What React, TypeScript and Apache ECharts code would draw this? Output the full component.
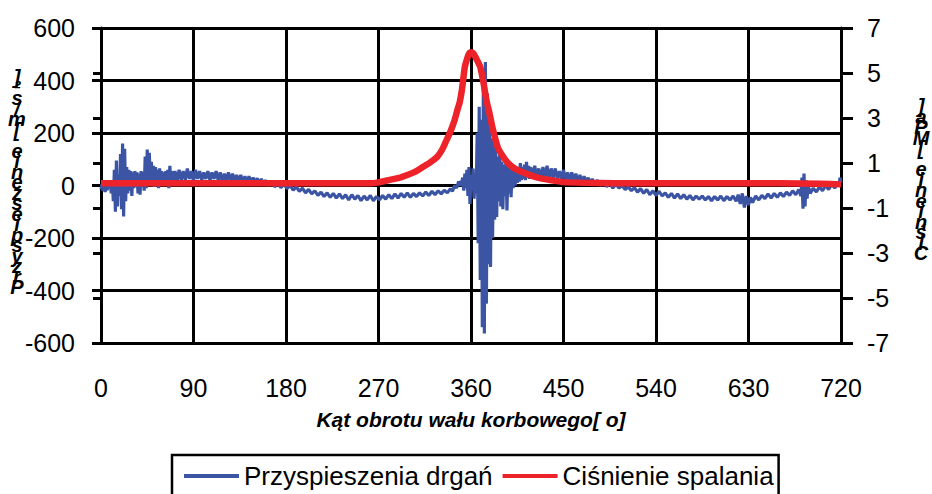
import React, { useEffect, useRef } from "react";
import * as echarts from "echarts";

const xTicks = [0, 90, 180, 270, 360, 450, 540, 630, 720];
const leftTicks = [-600, -400, -200, 0, 200, 400, 600];
const rightTicks = [-7, -5, -3, -1, 1, 3, 5, 7];

const seriesNames = ["Przyspieszenia drgań", "Ciśnienie spalania"];
const xTitle = "Kąt obrotu wału korbowego[ o]";
const leftTitle = "Przyspieszenie [m/s²]";
const rightTitle = "Ciśnienie [MPa]";

// [angle deg, acceleration m/s2]
const vibration: [number, number][] = [
  [0,-15],[1,5],[2,-20],[3,0],[4,-25],[5,-5],[6,-18],[7,5],[8,-10],[9,10],[10,-30],[11,20],[12,-60],[13,60],[14,-100],[15,95],[16,-80],[17,40],[18,-40],[19,120],[20,-90],[21,160],[22,-118],[23,140],[24,-60],[25,70],[26,-30],[27,60],[28,-20],[29,55],[30,-40],[31,50],[32,-10],[33,55],[34,-5],[35,50],[36,-30],[37,45],[38,-35],[39,55],[40,10],[41,50],[42,-20],[43,110],[44,-10],[45,137],[46,20],[47,125],[48,10],[49,90],[50,15],[51,75],[52,-5],[53,70],[54,20],[55,60],[56,-10],[57,65],[58,15],[59,55],[60,5],[61,50],[62,20],[63,55],[64,10],[65,60],[66,-10],[67,75],[68,15],[69,55],[70,10],[72,55],[74,15],[76,60],[78,20],[80,55],[82,20],[84,65],[86,25],[88,55],[90,15],[92,60],[94,25],[96,55],[98,20],[100,50],[102,25],[104,55],[106,20],[108,50],[110,25],[112,55],[114,20],[116,50],[118,15],[120,45],[122,20],[124,50],[126,15],[128,45],[130,20],[132,40],[134,15],[136,40],[138,10],[140,35],[142,12],[144,35],[146,10],[148,30],[150,8],[152,28],[154,5],[156,25],[158,5],[160,20],[163,0],[166,15],[169,-5],[172,8],[175,-8],[178,5],[181,-12],[184,0],[187,-18],[190,-5],[193,-22],[196,-10],[199,-28],[202,-15],[205,-32],[208,-20],[211,-38],[214,-25],[217,-42],[220,-28],[223,-45],[226,-30],[229,-48],[232,-32],[235,-50],[238,-35],[241,-55],[244,-35],[247,-52],[250,-38],[253,-58],[256,-40],[259,-55],[262,-38],[265,-58],[268,-42],[271,-55],[274,-38],[277,-52],[280,-35],[283,-50],[286,-32],[289,-48],[292,-30],[295,-45],[298,-28],[301,-45],[304,-30],[307,-42],[310,-28],[313,-40],[316,-25],[319,-38],[322,-22],[325,-35],[328,-20],[331,-32],[334,-18],[337,-28],[340,-12],[342,-22],[344,0],[346,-10],[348,15],[350,0],[352,30],[353,-20],[354,45],[355,-10],[356,60],[357,-40],[358,70],[359,-70],[360,40],[361,-20],[362,65],[363,-50],[364,30],[365,-30],[366,200],[367,-220],[368,300],[369,-360],[370,250],[371,-540],[372,380],[373,-564],[374,470],[375,-450],[376,350],[377,-300],[378,220],[379,-310],[380,180],[381,-200],[382,170],[383,-130],[384,150],[385,-120],[386,110],[387,-60],[388,130],[389,-80],[390,90],[391,-90],[392,80],[393,-40],[394,85],[395,-95],[396,70],[397,-30],[398,80],[399,-45],[400,60],[401,-10],[402,55],[403,0],[404,70],[405,10],[406,60],[407,15],[408,85],[409,20],[410,70],[411,25],[412,80],[413,20],[414,90],[415,30],[416,75],[417,25],[418,70],[420,30],[422,75],[424,30],[426,65],[428,25],[430,70],[432,30],[434,75],[436,25],[438,65],[440,30],[442,65],[444,25],[446,55],[448,25],[450,60],[452,20],[454,50],[456,15],[458,50],[460,20],[462,45],[464,15],[466,40],[468,10],[470,35],[472,10],[474,30],[476,5],[478,25],[480,5],[483,20],[486,0],[489,15],[492,-5],[495,10],[498,-10],[501,5],[504,-10],[507,0],[510,-15],[513,-5],[516,-20],[519,-8],[522,-25],[525,-12],[528,-30],[531,-15],[534,-35],[537,-20],[540,-38],[543,-22],[546,-40],[549,-28],[552,-45],[555,-30],[558,-48],[561,-32],[564,-50],[567,-35],[570,-52],[573,-38],[576,-55],[579,-40],[582,-52],[585,-40],[588,-55],[591,-42],[594,-58],[597,-42],[600,-55],[603,-40],[606,-58],[609,-42],[612,-55],[615,-40],[618,-60],[620,-35],[622,-70],[624,-30],[626,-84],[628,-40],[630,-75],[632,-45],[634,-65],[637,-40],[640,-55],[643,-38],[646,-50],[649,-32],[652,-48],[655,-30],[658,-45],[661,-28],[664,-42],[667,-25],[670,-38],[673,-20],[676,-35],[679,-15],[681,-40],[682,30],[683,-88],[684,46],[685,-80],[686,20],[687,-50],[688,0],[690,-30],[693,-10],[696,-25],[699,-5],[702,-20],[705,0],[708,-15],[711,5],[714,-10],[717,15],[718,-5],[719,30],[720,10]
];

// [angle deg, pressure MPa]
const pressure: [number, number][] = [
  [0,0.1],[30,0.1],[60,0.1],[90,0.1],[120,0.1],[150,0.1],[180,0.1],[210,0.1],[240,0.1],[262,0.1],[270,0.14],[281,0.25],[290,0.34],[298,0.47],[306,0.62],[313,0.82],[320,1.02],[327,1.27],[332,1.6],[336,2.0],[340,2.4],[344,2.9],[347,3.4],[349,3.7],[351,4.2],[352,4.55],[354,5.27],[356,5.6],[358,5.85],[360,5.92],[362,5.88],[365,5.65],[369,5.27],[372,4.6],[375,3.8],[378,3.2],[381,2.55],[386,1.7],[391,1.3],[396,1.0],[401,0.8],[407,0.65],[414,0.52],[420,0.42],[427,0.33],[440,0.22],[450,0.15],[470,0.12],[500,0.1],[540,0.1],[580,0.1],[620,0.1],[660,0.1],[700,0.08],[720,0.05]
];

const FONT = '"Liberation Sans", Arial, sans-serif';

// Upright characters stacked from bottom to top (as in the reference) in one text element.
function stacked(str: string) {
  return Array.from(str).reverse().join("\n");
}

export default function App() {
  const ref = useRef<HTMLDivElement>(null);
  useEffect(() => {
    if (!ref.current) return;
    const chart = echarts.init(ref.current, undefined, { renderer: "svg" });
    const black = "#000";
    const gridLine = { show: true, lineStyle: { color: black, width: 3, type: "solid" } };
    const stackStyle = {
      font: `italic bold 20px ${FONT}`,
      fill: black,
      lineHeight: 10.5,
      textAlign: "center",
      textVerticalAlign: "top",
      verticalAlign: "top",
    };
    chart.setOption({
      animation: false,
      backgroundColor: "#fff",
      textStyle: { fontFamily: FONT },
      grid: { left: 101, right: 91, top: 28, bottom: 151, containLabel: false },
      legend: {
        data: seriesNames,
        left: 172,
        top: 455,
        icon: "rect",
        itemWidth: 55,
        itemHeight: 4,
        itemGap: 10,
        borderColor: black,
        borderWidth: 2.5,
        padding: [8, 5, 20, 12],
        textStyle: { fontSize: 26, color: black, fontFamily: FONT },
      },
      xAxis: {
        type: "value",
        min: xTicks[0],
        max: xTicks[xTicks.length - 1],
        interval: 90,
        name: xTitle,
        nameLocation: "middle",
        nameGap: 66,
        nameTextStyle: { fontSize: 21, fontWeight: "bold", fontStyle: "italic", color: black, fontFamily: FONT },
        axisLine: { show: true, onZero: false, lineStyle: { color: black, width: 3 } },
        axisTick: { show: false },
        axisLabel: { fontSize: 25, color: black, margin: 32, fontFamily: FONT },
        splitLine: gridLine,
      },
      yAxis: [
        {
          type: "value",
          position: "left",
          min: leftTicks[0],
          max: leftTicks[leftTicks.length - 1],
          interval: 200,
          axisLine: { show: true, onZero: false, lineStyle: { color: black, width: 3 } },
          axisTick: { show: true, inside: false, length: 9, lineStyle: { color: black, width: 3 } },
          axisLabel: { fontSize: 25, color: black, margin: 26, fontFamily: FONT },
          splitLine: gridLine,
        },
        {
          type: "value",
          position: "right",
          min: rightTicks[0],
          max: rightTicks[rightTicks.length - 1],
          interval: 2,
          axisLine: { show: true, onZero: false, lineStyle: { color: black, width: 3 } },
          axisTick: { show: true, inside: false, length: 12, lineStyle: { color: black, width: 3 } },
          axisLabel: { fontSize: 25, color: black, margin: 26, fontFamily: FONT },
          splitLine: { show: false },
        },
        {
          type: "value",
          position: "right",
          min: rightTicks[0],
          max: rightTicks[rightTicks.length - 1],
          interval: 2,
          axisLine: { show: false },
          axisTick: { show: true, inside: true, length: 8, lineStyle: { color: black, width: 3 } },
          axisLabel: { show: false },
          splitLine: { show: false },
        },
      ],
      graphic: [
        { type: "text", x: 17, y: 72, silent: true, style: { ...stackStyle, text: stacked(leftTitle) } },
        { type: "text", x: 921, y: 101, silent: true, style: { ...stackStyle, text: stacked(rightTitle) } },
      ],
      series: [
        {
          name: seriesNames[0],
          type: "line",
          yAxisIndex: 0,
          data: vibration,
          showSymbol: false,
          symbol: "none",
          lineStyle: { color: "#3b55a4", width: 3.2 },
          itemStyle: { color: "#3b55a4" },
        },
        {
          name: seriesNames[1],
          type: "line",
          yAxisIndex: 1,
          data: pressure,
          showSymbol: false,
          symbol: "none",
          smooth: 0.2,
          lineStyle: { color: "#ee2229", width: 6.5 },
          itemStyle: { color: "#ee2229" },
        },
      ],
    });
    return () => chart.dispose();
  }, []);
  return (
    <div
      ref={ref}
      style={{ position: "absolute", left: 0, top: 0, width: 932, height: 494, background: "#fff" }}
    />
  );
}
